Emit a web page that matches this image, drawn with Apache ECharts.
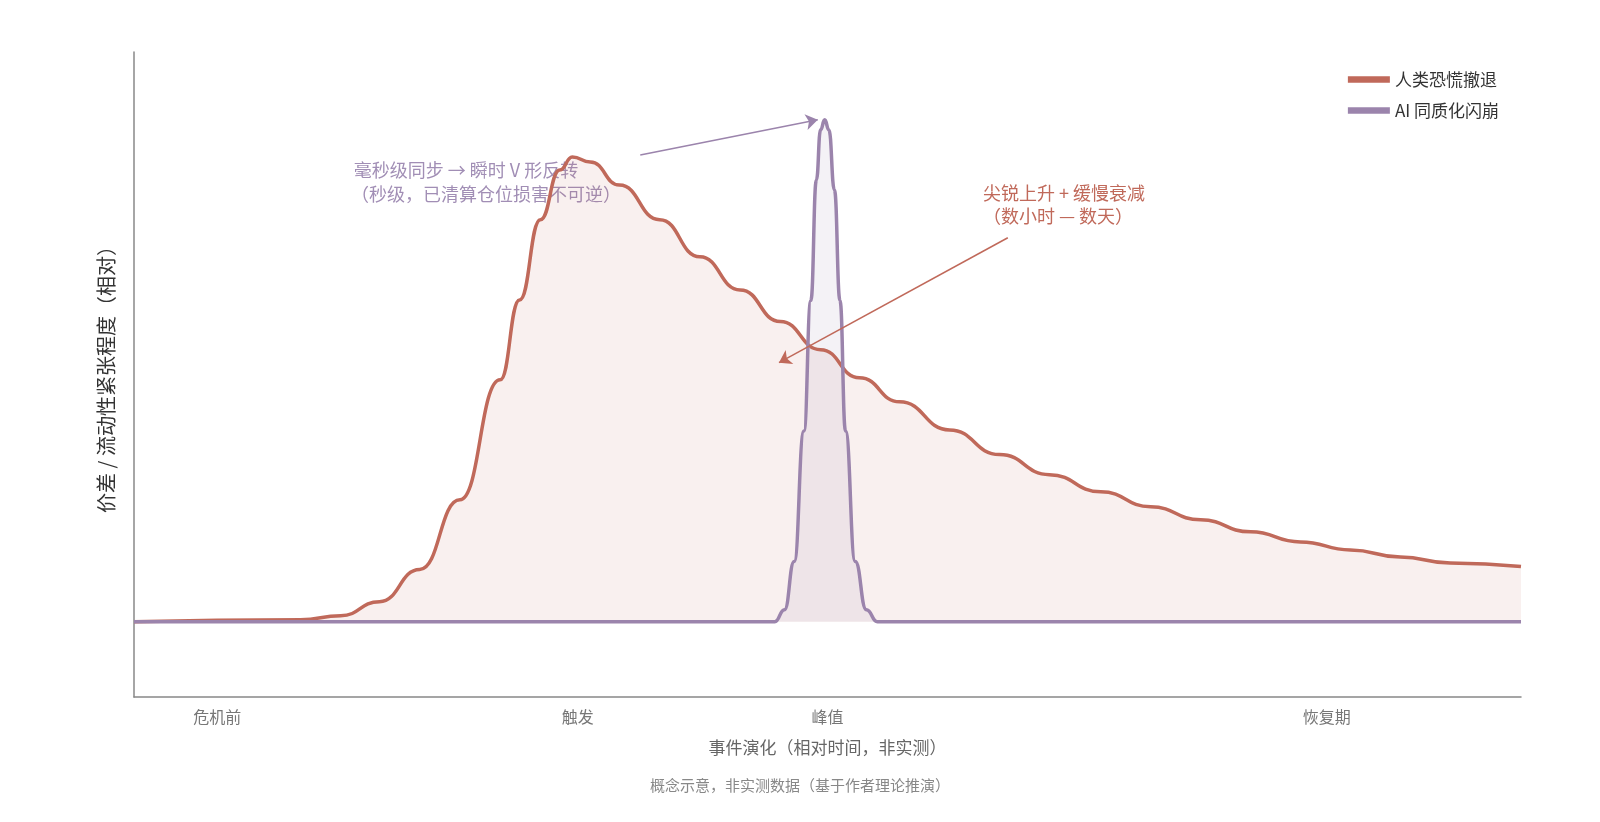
<!DOCTYPE html>
<html><head><meta charset="utf-8">
<script src="https://cdn.jsdelivr.net/npm/echarts@6/dist/echarts.min.js"></script>
<style>html,body{margin:0;padding:0;background:#fff}#c{width:1600px;height:822px}</style>
</head><body><div id="c"></div>
<script>
const humanData = [[0,0],[12,0.004],[14.9,0.012],[17.7,0.04],[20.6,0.104],[23.5,0.243],[26.4,0.482],[27.8,0.641],[29.3,0.801],[30.7,0.9],[31.6,0.926],[32.9,0.916],[35,0.87],[37.9,0.801],[40.8,0.727],[43.7,0.661],[46.6,0.598],[49.5,0.542],[52.3,0.486],[55.2,0.438],[58.8,0.382],[62.4,0.333],[66,0.293],[69.7,0.259],[73.3,0.229],[76.9,0.203],[80.5,0.179],[84.1,0.159],[87.7,0.143],[91.3,0.129],[94.9,0.117],[100,0.11]];
const aiData = [[0,0],[46.2,0],[46.9,0.024],[47.6,0.12],[48.3,0.38],[48.8,0.64],[49.2,0.88],[49.5,0.98],[49.8,1.0],[50.1,0.98],[50.5,0.86],[50.9,0.64],[51.3,0.38],[52,0.12],[52.8,0.024],[53.6,0],[100,0]];
const tickValues = [6, 32, 50, 86];
const tickLabels = ['危机前', '触发', '峰值', '恢复期'];
const seriesNames = ['人类恐慌撤退', 'AI 同质化闪崩'];
const ff = '"Noto Sans CJK SC","Noto Sans",sans-serif';
const chart = echarts.init(document.getElementById('c'));
chart.setOption({
  animation:false,
  textStyle:{fontFamily:ff},
  grid:{left:134,right:79,top:52,bottom:125},
  legend:{orient:'vertical',right:96,top:66,itemWidth:42,itemHeight:14,itemGap:14,
    textStyle:{fontSize:17,color:'#333',fontFamily:ff},
    data:seriesNames.map(n=>({name:n,icon:'path://M0,0H10V1.5H0Z'}))},
  xAxis:{type:'value',min:0,max:100,
    name:'事件演化（相对时间，非实测）',nameLocation:'middle',nameGap:42,
    nameTextStyle:{fontSize:17,color:'#666'},
    axisLine:{onZero:false,lineStyle:{color:'#888',width:1.5}},axisTick:{show:false},splitLine:{show:false},
    axisLabel:{customValues:tickValues,fontSize:16,color:'#777',margin:12,
      formatter:v=>tickLabels[tickValues.indexOf(v)]||''}},
  yAxis:{type:'value',min:-0.15,max:1.135,
    name:'价差 / 流动性紧张程度（相对）',nameLocation:'middle',nameGap:18,
    nameTextStyle:{fontSize:20,color:'#333'},
    axisLine:{show:true,onZero:false,lineStyle:{color:'#888',width:1.5}},axisTick:{show:false},
    axisLabel:{show:false},splitLine:{show:false}},
  series:[
    {name:seriesNames[0],type:'line',data:humanData,smooth:true,smoothMonotone:'x',showSymbol:false,
      lineStyle:{color:'#c0695a',width:3.5},itemStyle:{color:'#c0695a'},
      areaStyle:{color:'rgba(192,105,90,0.14)',origin:0},
      markLine:{silent:true,symbol:['none','arrow'],symbolSize:12,label:{show:false},
        lineStyle:{color:'#c0695a',width:1.5,type:'solid'},
        data:[[{coord:[63,0.765]},{coord:[46.5,0.516]}]]}},
    {name:seriesNames[1],type:'line',data:aiData,smooth:true,smoothMonotone:'x',showSymbol:false,
      lineStyle:{color:'#9b84ac',width:3.5},itemStyle:{color:'#9b84ac'},
      areaStyle:{color:'rgba(155,132,172,0.15)',origin:0},
      markLine:{silent:true,symbol:['none','arrow'],symbolSize:12,label:{show:false},
        lineStyle:{color:'#9b84ac',width:1.5,type:'solid'},
        data:[[{coord:[36.5,0.93]},{coord:[49.3,1.0]}]]}}
  ],
  graphic:[
    {type:'text',left:'center',top:778,style:{text:'概念示意，非实测数据（基于作者理论推演）',fontSize:15,fill:'#888',fontFamily:ff}},
    {type:'text',x:466,y:170,style:{text:'毫秒级同步 → 瞬时 V 形反转',fontSize:18,fill:'#a18eb5',align:'center',verticalAlign:'middle',fontFamily:ff}},
    {type:'text',x:486,y:194,style:{text:'（秒级，已清算仓位损害不可逆）',fontSize:18,fill:'#a18eb5',align:'center',verticalAlign:'middle',fontFamily:ff}},
    {type:'text',x:1064,y:193,style:{text:'尖锐上升 + 缓慢衰减',fontSize:18,fill:'#c0695a',align:'center',verticalAlign:'middle',fontFamily:ff}},
    {type:'text',x:1058,y:216,style:{text:'（数小时 — 数天）',fontSize:18,fill:'#c0695a',align:'center',verticalAlign:'middle',fontFamily:ff}}
  ]
});
</script></body></html>
